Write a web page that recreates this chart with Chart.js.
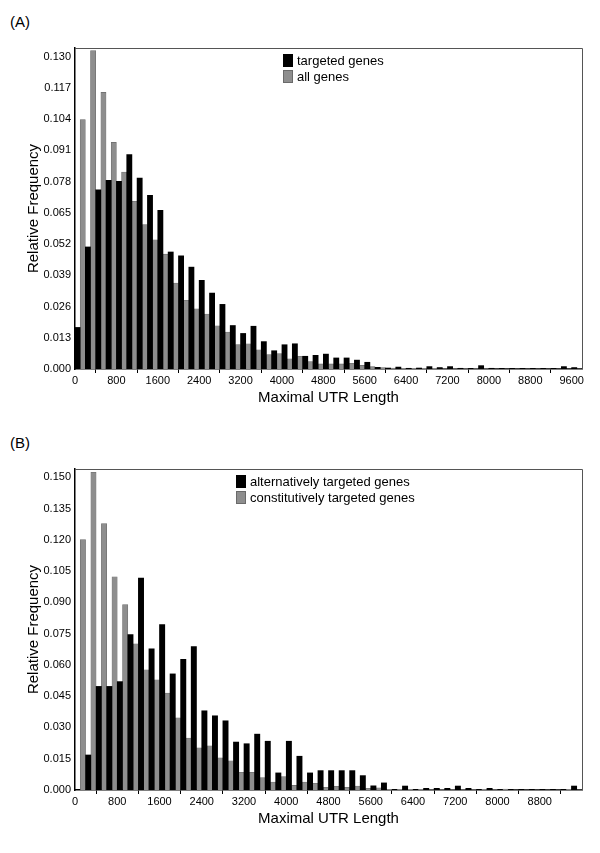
<!DOCTYPE html>
<html>
<head>
<meta charset="utf-8">
<script src="https://cdn.jsdelivr.net/npm/chart.js@4.4.1/dist/chart.umd.min.js"></script>
<style>
    body { margin: 0; background: #fff; font-family: "Liberation Sans", Arial, Helvetica, sans-serif; color: #000; }
    #page { position: relative; width: 600px; height: 853px; overflow: hidden; }
    .panel-label { position: absolute; left: 10px; font-size: 15px; line-height: 18px; }
    .chart-box { position: absolute; left: 0; width: 600px; }
    .legend { position: absolute; font-size: 13px; }
    .legend .row { display: flex; align-items: center; height: 16px; white-space: nowrap; }
    .legend .sw { display: inline-block; width: 10px; height: 13px; margin-right: 4px; box-sizing: border-box; }
</style>
</head>
<body>
<div id="page">
    <div class="panel-label" style="top:13px">(A)</div>
    <div class="chart-box" style="top:30px"><canvas id="chartA" width="600" height="377"></canvas></div>
    <div class="legend" id="legendA" style="left:283px; top:52px"></div>

    <div class="panel-label" style="top:434px">(B)</div>
    <div class="chart-box" style="top:451px"><canvas id="chartB" width="600" height="377"></canvas></div>
    <div class="legend" id="legendB" style="left:236px; top:473px"></div>
</div>
<script>
// bins are 200 wide, starting at 0
const binWidth = 200;

// panel A
const labelsA = ["targeted genes", "all genes"];
const targetedGenes = [
    0.0173, 0.0508, 0.0746, 0.0785, 0.0781, 0.0892, 0.0795, 0.0723, 0.0660, 0.0487,
    0.0471, 0.0424, 0.0369, 0.0316, 0.0269, 0.0181, 0.0148, 0.0178, 0.0114, 0.0076,
    0.0101, 0.0105, 0.0053, 0.0057, 0.0062, 0.0046, 0.0046, 0.0037, 0.0028, 0.0007,
    0.0004, 0.0008, 0.0003, 0.0004, 0.0010, 0.0006, 0.0010, 0.0003, 0.0000, 0.0014,
    0.0003, 0.0000, 0.0000, 0.0000, 0.0000, 0.0000, 0.0000, 0.0010, 0.0006
];
const allGenes = [
    0.1038, 0.1325, 0.1151, 0.0943, 0.0820, 0.0698, 0.0601, 0.0538, 0.0478, 0.0358,
    0.0286, 0.0250, 0.0229, 0.0180, 0.0154, 0.0102, 0.0105, 0.0080, 0.0060, 0.0064,
    0.0042, 0.0053, 0.0031, 0.0021, 0.0021, 0.0021, 0.0024, 0.0015, 0.0010, 0.0006,
    0.0004, 0.0003, 0.0003, 0.0003, 0.0003, 0.0002, 0.0002, 0.0002, 0.0002, 0.0002,
    0.0001, 0.0001, 0.0001, 0.0001, 0.0001, 0.0001, 0.0001, 0.0001, 0.0001
];
const xTicksA = [0, 800, 1600, 2400, 3200, 4000, 4800, 5600, 6400, 7200, 8000, 8800, 9600];
const yTicksA = [0.000, 0.013, 0.026, 0.039, 0.052, 0.065, 0.078, 0.091, 0.104, 0.117, 0.130];

// panel B
const labelsB = ["alternatively targeted genes", "constitutively targeted genes"];
const altTargeted = [
    0.0000, 0.0168, 0.0497, 0.0497, 0.0520, 0.0746, 0.1017, 0.0677, 0.0794, 0.0557,
    0.0627, 0.0688, 0.0380, 0.0356, 0.0332, 0.0230, 0.0222, 0.0268, 0.0234, 0.0082,
    0.0234, 0.0162, 0.0082, 0.0093, 0.0093, 0.0093, 0.0093, 0.0069, 0.0020, 0.0034,
    0.0000, 0.0019, 0.0000, 0.0008, 0.0008, 0.0008, 0.0019, 0.0008, 0.0000, 0.0008,
    0.0000, 0.0000, 0.0000, 0.0000, 0.0000, 0.0000, 0.0000, 0.0019
];
const constTargeted = [
    0.1201, 0.1524, 0.1278, 0.1023, 0.0889, 0.0701, 0.0577, 0.0529, 0.0465, 0.0346,
    0.0249, 0.0202, 0.0212, 0.0154, 0.0140, 0.0085, 0.0085, 0.0059, 0.0038, 0.0064,
    0.0022, 0.0038, 0.0032, 0.0013, 0.0018, 0.0013, 0.0019, 0.0008, 0.0011, 0.0003,
    0.0003, 0.0003, 0.0003, 0.0002, 0.0002, 0.0002, 0.0002, 0.0002, 0.0003, 0.0002,
    0.0004, 0.0001, 0.0001, 0.0001, 0.0001, 0.0001, 0.0003, 0.0001
];
const xTicksB = [0, 800, 1600, 2400, 3200, 4000, 4800, 5600, 6400, 7200, 8000, 8800];
const yTicksB = [0.000, 0.015, 0.030, 0.045, 0.060, 0.075, 0.090, 0.105, 0.120, 0.135, 0.150];

const FONT = '"Liberation Sans", Arial, Helvetica, sans-serif';
const BLACK = '#000000';
const GRAY = '#8e8e8e';

function toPoints(values) {
    return values.map((v, i) => ({ x: i * binWidth + binWidth / 2, y: v }));
}

// top and right edges of the plot box
const framePlugin = {
    id: 'frame',
    afterDraw(chart) {
        const { ctx, chartArea: a } = chart;
        ctx.save();
        ctx.strokeStyle = '#555';
        ctx.lineWidth = 1;
        ctx.beginPath();
        ctx.moveTo(a.left, a.top + 0.5);
        ctx.lineTo(a.right + 0.5, a.top + 0.5);
        ctx.lineTo(a.right + 0.5, a.bottom);
        ctx.stroke();
        ctx.restore();
    }
};

function createChart(elementId, labels, series, xMax, xTicks, yMax, yTicks) {
    const ctx = document.getElementById(elementId);
    return new Chart(ctx, {
        type: 'bar',
        data: {
            datasets: [{
                label: labels[0],
                data: toPoints(series[0]),
                backgroundColor: BLACK,
                borderWidth: 0
            }, {
                label: labels[1],
                data: toPoints(series[1]),
                backgroundColor: GRAY,
                borderColor: '#6a6a6a',
                borderWidth: 0.6
            }]
        },
        options: {
            responsive: false,
            animation: false,
            categoryPercentage: 1.0,
            barPercentage: 1.0,
            layout: { padding: { left: 25, right: 18, top: 18, bottom: 0 } },
            plugins: {
                legend: { display: false },
                tooltip: { enabled: false }
            },
            scales: {
                x: {
                    type: 'linear',
                    min: 0,
                    max: xMax,
                    offset: false,
                    afterBuildTicks: s => { s.ticks = xTicks.map(v => ({ value: v })); },
                    afterFit: s => { s.height = 38; },
                    grid: { display: true, drawOnChartArea: false, drawTicks: true, tickLength: 4, color: '#000' },
                    border: { display: true, color: '#000', width: 1.5 },
                    ticks: {
                        autoSkip: false,
                        maxRotation: 0,
                        padding: 1,
                        color: '#000',
                        font: { family: FONT, size: 11 },
                        callback: v => String(v)
                    },
                    title: { display: true, text: 'Maximal UTR Length', color: '#000', padding: 0, font: { family: FONT, size: 15 } }
                },
                y: {
                    min: 0,
                    max: yMax,
                    afterBuildTicks: s => { s.ticks = yTicks.map(v => ({ value: v })); },
                    afterFit: s => { s.width = 50; },
                    grid: { display: false, drawTicks: false },
                    border: { display: true, color: '#000', width: 1.5 },
                    ticks: {
                        padding: 4,
                        color: '#000',
                        font: { family: FONT, size: 11 },
                        callback: v => Number(v).toFixed(3)
                    },
                    title: { display: true, text: 'Relative Frequency', color: '#000', padding: 0, font: { family: FONT, size: 15 } }
                }
            }
        },
        plugins: [framePlugin]
    });
}

function buildLegend(elementId, labels) {
    const box = document.getElementById(elementId);
    const colors = [BLACK, GRAY];
    labels.forEach((text, i) => {
        const row = document.createElement('div');
        row.className = 'row';
        const sw = document.createElement('span');
        sw.className = 'sw';
        sw.style.background = colors[i];
        if (i === 1) sw.style.border = '1px solid #6a6a6a';
        const label = document.createElement('span');
        label.textContent = text;
        row.appendChild(sw);
        row.appendChild(label);
        box.appendChild(row);
    });
}

window.onload = () => {
    createChart('chartA', labelsA, [targetedGenes, allGenes], 9800, xTicksA, 0.1336, yTicksA);
    createChart('chartB', labelsB, [altTargeted, constTargeted], 9600, xTicksB, 0.154, yTicksB);
    buildLegend('legendA', labelsA);
    buildLegend('legendB', labelsB);
};
</script>
</body>
</html>
